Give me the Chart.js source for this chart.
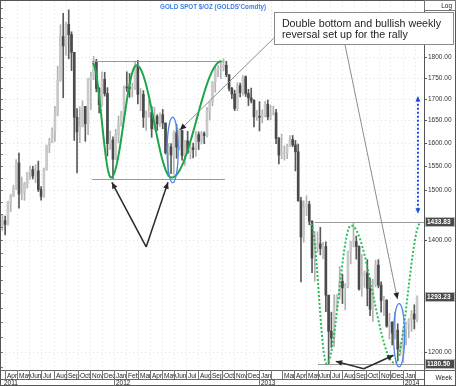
<!DOCTYPE html>
<html lang="en">
<head>
<meta charset="UTF-8">
<title>Gold spot weekly - double bottom</title>
<script src="https://cdn.jsdelivr.net/npm/chart.js"></script>
<style>
  html, body { margin: 0; padding: 0; background: #fff; }
  #wrap { width: 456px; height: 386px; }
</style>
</head>
<body>
<div id="wrap"><canvas id="goldChart" width="456" height="386"></canvas></div>
<script>
  // weekly candles, first bar is the week starting Mon 21 Mar 2011
  const firstWeek = [2011, 2, 21];
  const opens = [
    1427,1437,1430,1474,1486,1504,1556,1491,1493,1512,1536,1542,1528,1539,1500,1486,1542,1593,1602,1628,
    1663,1743,1852,1828,1883,1857,1812,1657,1624,1636,1682,1642,1746,1753,1788,1724,1686,1746,1712,1598,
    1606,1564,1617,1640,1665,1727,1725,1724,1725,1777,1710,1710,1657,1662,1668,1631,1659,1642,1663,1644,
    1578,1591,1573,1622,1590,1627,1572,1604,1579,1589,1585,1618,1603,1620,1616,1671,1692,1740,1769,1772,
    1774,1780,1757,1724,1711,1677,1731,1714,1752,1712,1702,1696,1658,1658,1657,1662,1687,1658,1667,1667,
    1609,1573,1576,1577,1592,1607,1595,1580,1477,1405,1463,1470,1436,1365,1386,1392,1383,1387,1297,1234,
    1223,1277,1296,1322,1310,1313,1377,1396,1396,1387,1308,1332,1337,1309,1272,1315,1352,1315,1287,1288,
    1243,1250,1231,1236,1204,1212,1238,1247,1254,1264,1255
  ];
  const highs = [
    1448,1446,1476,1490,1509,1563,1577,1526,1515,1536,1550,1549,1552,1560,1506,1545,1595,1610,1633,1682,
    1778,1882,1912,1889,1921,1864,1812,1677,1681,1695,1682,1748,1763,1802,1795,1726,1764,1763,1726,1626,
    1613,1630,1660,1671,1730,1764,1760,1737,1790,1792,1724,1719,1672,1696,1682,1680,1663,1667,1675,1644,
    1598,1598,1626,1641,1631,1628,1605,1625,1598,1599,1625,1624,1625,1624,1680,1693,1741,1778,1779,1787,
    1796,1790,1757,1727,1720,1738,1737,1755,1754,1722,1725,1698,1673,1693,1674,1694,1697,1685,1683,1675,
    1612,1619,1593,1597,1616,1616,1605,1597,1484,1477,1487,1476,1437,1416,1415,1424,1395,1396,1297,1267,
    1298,1298,1349,1335,1318,1378,1397,1434,1407,1388,1372,1341,1362,1327,1326,1361,1362,1321,1295,1289,
    1265,1250,1267,1247,1216,1238,1250,1256,1270,1280,1296
  ];
  const lows = [
    1418,1409,1428,1455,1486,1500,1462,1479,1478,1503,1521,1522,1514,1496,1478,1484,1540,1578,1600,1603,
    1660,1741,1702,1804,1796,1767,1605,1535,1600,1635,1603,1618,1675,1745,1716,1667,1683,1706,1571,1585,
    1523,1563,1600,1637,1654,1717,1703,1704,1722,1688,1672,1634,1627,1657,1612,1628,1627,1636,1631,1575,
    1527,1533,1532,1566,1584,1562,1551,1576,1565,1567,1570,1585,1597,1598,1613,1651,1683,1715,1752,1748,
    1766,1752,1718,1700,1672,1672,1704,1708,1705,1684,1690,1635,1650,1626,1644,1658,1651,1651,1662,1598,
    1554,1565,1562,1565,1591,1591,1539,1476,1321,1395,1447,1429,1338,1322,1376,1371,1364,1268,1180,1207,
    1209,1270,1290,1282,1271,1310,1354,1386,1363,1306,1295,1311,1278,1261,1251,1312,1310,1267,1261,1241,
    1221,1211,1221,1185,1194,1182,1211,1223,1234,1238,1250
  ];
  const closes = [
    1437,1430,1474,1486,1504,1556,1491,1493,1512,1536,1542,1528,1539,1500,1486,1542,1593,1602,1628,1663,
    1743,1852,1828,1883,1857,1812,1657,1624,1636,1682,1642,1746,1753,1788,1724,1686,1746,1712,1598,1606,
    1564,1617,1640,1665,1727,1725,1724,1725,1777,1710,1710,1657,1662,1668,1631,1659,1642,1663,1644,1578,
    1591,1573,1622,1590,1627,1572,1604,1579,1589,1585,1618,1603,1620,1616,1671,1692,1740,1769,1772,1774,
    1780,1757,1724,1711,1677,1731,1714,1752,1712,1702,1696,1658,1658,1657,1662,1687,1658,1667,1667,1609,
    1573,1576,1577,1592,1607,1595,1580,1477,1405,1463,1470,1436,1365,1386,1392,1383,1387,1297,1234,1223,
    1277,1296,1322,1310,1313,1377,1396,1396,1387,1308,1332,1337,1309,1272,1315,1352,1315,1287,1288,1243,
    1250,1231,1236,1204,1212,1238,1247,1254,1264,1255,1293
  ];
  const slotCount = 153;
  const priceTicks = [1200, 1400, 1500, 1550, 1600, 1650, 1700, 1750, 1800, 1850];
  const markedLevels = [1433.83, 1293.23, 1180.50];
  const monthNames = ['Jan','Feb','Mar','Apr','May','Jun','Jul','Aug','Sep','Oct','Nov','Dec'];
  const firstMonth = [2011, 3];
  const lastMonth = [2014, 1];

  // hand drawn annotations, anchors as [week index, price]
  const rangeTop2012 = [[32.4, 1790], [79.7, 1790]];
  const rangeBottom2012 = [[32.4, 1523], [80.5, 1523]];
  const wave2012 = [[32.6, 1785], [39.3, 1525], [48.5, 1780], [61.2, 1525], [79.3, 1790]];
  const wave2013 = [[111.6, 1431], [117.3, 1180], [126.1, 1428], [142.0, 1181], [151.4, 1434]];
  const rangeTop2013 = [[113.0, 1433.83], [152.5, 1433.83]];
  const rangeBottom2013 = [[114.1, 1180.5], [152.5, 1180.5]];
  const ovals = [[61.6, 2.0, 1657, 1514], [143.5, 2.0, 1282, 1175]];
  const arrows2012 = [[52.0, 1386], [39.6, 1515], [59.9, 1515]];
  const arrows2013 = [[130.7, 1172], [120.6, 1184], [141.5, 1194]];
  const targetArrow = [[150.3, 1451], [150.3, 1706]];
  const noteBox = [[98.2, 1915], [163.0, 1832]];
  const noteLines = ['Double bottom and bullish weekly', 'reversal set up for the rally'];
  const callouts = [[[98.2, 1848], [64.2, 1628]], [[123.9, 1832], [142.9, 1290]]];
  const titleText = "GOLD SPOT $/OZ (GOLDS'Comdty)";

  const FONT = '"Liberation Sans", Arial, sans-serif';

  function weekPos(y, m, d) {
    const t0 = Date.UTC(firstWeek[0], firstWeek[1], firstWeek[2]);
    return (Date.UTC(y, m, d) - t0) / (7 * 86400000) - 0.5;
  }

  function monthStarts() {
    const out = [];
    let [yy, mm] = firstMonth;
    while (yy < lastMonth[0] || (yy === lastMonth[0] && mm <= lastMonth[1])) {
      out.push({ year: yy, month: mm, pos: weekPos(yy, mm, 1) });
      mm++;
      if (mm > 11) { mm = 0; yy++; }
    }
    return out;
  }

  const isUp = opens.map((o, i) => closes[i] >= o);
  const wickData = lows.map((l, i) => ({ x: i, y: [l, highs[i]] }));
  const bodyData = opens.map((o, i) => ({ x: i, y: [Math.min(o, closes[i]), Math.max(o, closes[i])] }));

  function seg(ctx, x0, y0, x1, y1) {
    ctx.beginPath(); ctx.moveTo(x0, y0); ctx.lineTo(x1, y1); ctx.stroke();
  }

  function arrowHead(ctx, x0, y0, x1, y1, size) {
    const ang = Math.atan2(y1 - y0, x1 - x0);
    ctx.beginPath();
    ctx.moveTo(x1, y1);
    ctx.lineTo(x1 - size * Math.cos(ang - 0.42), y1 - size * Math.sin(ang - 0.42));
    ctx.lineTo(x1 - size * Math.cos(ang + 0.42), y1 - size * Math.sin(ang + 0.42));
    ctx.closePath();
    ctx.fill();
  }

  const overlay = {
    id: 'overlay',
    beforeDatasetsDraw(chart) {
      const { ctx, chartArea: a, scales: { x, y } } = chart;
      ctx.save();
      ctx.strokeStyle = '#e0e0e0';
      ctx.lineWidth = 1;
      ctx.setLineDash([1, 3]);
      priceTicks.forEach(p => {
        const yy = Math.round(y.getPixelForValue(p)) + 0.5;
        seg(ctx, a.left, yy, a.right, yy);
      });
      monthStarts().forEach(m => {
        const xx = Math.round(x.getPixelForValue(m.pos)) + 0.5;
        seg(ctx, xx, a.top, xx, a.bottom);
      });
      ctx.restore();
    },
    afterDatasetsDraw(chart) {
      const { ctx, scales: { x, y } } = chart;
      const P = ([i, p]) => [x.getPixelForValue(i), y.getPixelForValue(p)];
      ctx.save();

      // range lines
      ctx.strokeStyle = '#9a9a9a';
      ctx.lineWidth = 1;
      [rangeTop2012, rangeBottom2012, rangeTop2013, rangeBottom2013].forEach(l => {
        const [x0, y0] = P(l[0]), [x1, y1] = P(l[1]);
        seg(ctx, x0, Math.round(y0) + 0.5, x1, Math.round(y1) + 0.5);
      });

      // wave curves
      function wave(pts) {
        ctx.beginPath();
        for (let k = 0; k < pts.length - 1; k++) {
          const [x0, y0] = P(pts[k]), [x1, y1] = P(pts[k + 1]);
          for (let s = 0; s <= 30; s++) {
            const t = s / 30;
            const xx = x0 + (x1 - x0) * t;
            const yy = y0 + (y1 - y0) * (1 - Math.cos(Math.PI * t)) / 2;
            if (k === 0 && s === 0) ctx.moveTo(xx, yy); else ctx.lineTo(xx, yy);
          }
        }
        ctx.stroke();
      }
      ctx.strokeStyle = '#1ea54b';
      ctx.lineWidth = 2;
      wave(wave2012);
      ctx.strokeStyle = '#2ebd55';
      ctx.setLineDash([2, 2]);
      wave(wave2013);
      ctx.setLineDash([]);

      // ovals
      ctx.strokeStyle = '#4a86e8';
      ctx.lineWidth = 1.3;
      ovals.forEach(([c, hw, pTop, pBot]) => {
        const cx = x.getPixelForValue(c);
        const rx = x.getPixelForValue(c + hw) - cx;
        const yT = y.getPixelForValue(pTop), yB = y.getPixelForValue(pBot);
        ctx.beginPath();
        ctx.ellipse(cx, (yT + yB) / 2, rx, (yB - yT) / 2, 0, 0, Math.PI * 2);
        ctx.stroke();
      });

      // black pointer arrows
      ctx.strokeStyle = '#2a2a2a';
      ctx.fillStyle = '#2a2a2a';
      ctx.lineWidth = 1.5;
      [arrows2012, arrows2013].forEach(set => {
        const [vx, vy] = P(set[0]);
        set.slice(1).forEach(tip => {
          const [tx, ty] = P(tip);
          seg(ctx, vx, vy, tx, ty);
          arrowHead(ctx, vx, vy, tx, ty, 7);
        });
      });

      // blue target arrow
      const [bx0, by0] = P(targetArrow[0]), [bx1, by1] = P(targetArrow[1]);
      ctx.strokeStyle = '#1d4fd6';
      ctx.fillStyle = '#1d4fd6';
      ctx.lineWidth = 2;
      ctx.setLineDash([2, 2]);
      seg(ctx, bx0, by0 - 4, bx1, by1 + 4);
      ctx.setLineDash([]);
      arrowHead(ctx, bx0, by1, bx0, by0, 6);
      arrowHead(ctx, bx1, by0, bx1, by1, 6);

      ctx.restore();
    },
    afterDraw(chart) {
      const { ctx, chartArea: a, scales: { x, y }, width: W, height: H } = chart;
      const P = ([i, p]) => [x.getPixelForValue(i), y.getPixelForValue(p)];
      ctx.save();

      // frame and axis separators
      ctx.strokeStyle = '#555';
      ctx.lineWidth = 1;
      ctx.strokeRect(0.5, 0.5, W - 1, H - 1);
      seg(ctx, a.right + 0.5, 0, a.right + 0.5, H);
      // left edge ticks
      ctx.strokeStyle = '#777';
      for (let p = 1175; p < 1940; p += 25) {
        const yy = Math.round(y.getPixelForValue(p)) + 0.5;
        seg(ctx, 1, yy, 3, yy);
      }

      // bottom date strip
      const b = Math.round(a.bottom);
      ctx.strokeStyle = '#666';
      seg(ctx, 0, b + 0.5, W, b + 0.5);
      seg(ctx, 0, b + 9.5, a.right, b + 9.5);
      ctx.fillStyle = '#222';
      ctx.font = '6.5px ' + FONT;
      ctx.textBaseline = 'alphabetic';
      ctx.textAlign = 'left';
      const ms = monthStarts();
      ms.forEach((m, k) => {
        const xx = Math.round(x.getPixelForValue(m.pos)) + 0.5;
        ctx.strokeStyle = '#777';
        seg(ctx, xx, b, xx, b + 9);
        if (m.month === 0) seg(ctx, xx, b + 9, xx, H);
        const next = k + 1 < ms.length ? x.getPixelForValue(ms[k + 1].pos) : a.right;
        if (next - xx >= 10.5) ctx.fillText(monthNames[m.month], xx + 1.5, b + 7.5);
        if (m.month === 0) ctx.fillText(String(m.year), xx + 1.5, b + 15);
      });
      ctx.fillText(String(firstWeek[0]), a.left + 3, b + 15);

      // right price axis
      ctx.font = '6.5px ' + FONT;
      ctx.textBaseline = 'middle';
      priceTicks.forEach(p => {
        const yy = Math.round(y.getPixelForValue(p)) + 0.5;
        ctx.strokeStyle = '#555';
        seg(ctx, a.right, yy, a.right + 3, yy);
        ctx.fillStyle = '#333';
        ctx.fillText(p.toFixed(2), a.right + 4, yy);
      });
      markedLevels.forEach(p => {
        const yy = Math.round(y.getPixelForValue(p));
        ctx.fillStyle = '#4b4b4b';
        ctx.fillRect(a.right + 1, yy - 5, 30, 10);
        ctx.strokeStyle = '#bbb';
        ctx.strokeRect(a.right + 1.5, yy - 4.5, 29, 9);
        ctx.fillStyle = '#fff';
        ctx.font = 'bold 6.5px ' + FONT;
        ctx.fillText(p.toFixed(2), a.right + 3, yy + 0.5);
      });

      // Log box and Week label
      ctx.strokeStyle = '#777';
      ctx.strokeRect(a.right + 0.5, 0.5, W - a.right - 1, 10);
      ctx.fillStyle = '#222';
      ctx.font = '6.5px ' + FONT;
      ctx.textAlign = 'right';
      ctx.fillText('Log', W - 4, 6);
      ctx.fillText('Week', W - 4, b + 8);

      // title
      ctx.textAlign = 'left';
      ctx.textBaseline = 'alphabetic';
      ctx.fillStyle = '#3b7de0';
      ctx.font = 'bold 6.3px ' + FONT;
      ctx.fillText(titleText, 160, 9);

      // callout lines
      ctx.strokeStyle = '#8c8c8c';
      ctx.fillStyle = '#222';
      ctx.lineWidth = 1;
      callouts.forEach(([from, to]) => {
        const [x0, y0] = P(from), [x1, y1] = P(to);
        seg(ctx, x0, y0, x1, y1);
        arrowHead(ctx, x0, y0, x1, y1, 7);
      });

      // note box
      const [nx0, ny0] = P(noteBox[0]), [nx1, ny1] = P(noteBox[1]);
      ctx.fillStyle = '#fff';
      ctx.fillRect(nx0, ny0, nx1 - nx0, ny1 - ny0);
      ctx.strokeStyle = '#8a8a8a';
      ctx.strokeRect(Math.round(nx0) + 0.5, Math.round(ny0) + 0.5, Math.round(nx1 - nx0), Math.round(ny1 - ny0));
      ctx.fillStyle = '#1e1e1e';
      ctx.font = '10.7px ' + FONT;
      noteLines.forEach((t, k) => ctx.fillText(t, nx0 + 8, ny0 + 14.5 + k * 11));

      ctx.restore();
    }
  };

  const ctx = document.getElementById('goldChart').getContext('2d');
  new Chart(ctx, {
    type: 'bar',
    data: {
      datasets: [
        {
          label: 'body',
          data: bodyData,
          backgroundColor: isUp.map(u => u ? '#c9c9c9' : '#4a4a4a'),
          barThickness: 2,
          minBarLength: 1,
          grouped: false
        },
        {
          label: 'range',
          data: wickData,
          backgroundColor: isUp.map(u => u ? '#b3b3b3' : '#5a5a5a'),
          barThickness: 1,
          grouped: false
        }
      ]
    },
    options: {
      responsive: false,
      animation: false,
      layout: { padding: { left: 1, top: 2, right: 0, bottom: 0 } },
      plugins: { legend: { display: false }, tooltip: { enabled: false } },
      scales: {
        x: {
          type: 'linear',
          min: -0.5,
          max: slotCount - 0.5,
          offset: false,
          ticks: { display: false },
          grid: { display: false },
          border: { display: false },
          afterFit: s => { s.height = 16; }
        },
        y: {
          type: 'logarithmic',
          position: 'right',
          min: 1170,
          max: 1942,
          ticks: { display: false },
          grid: { display: false },
          border: { display: false },
          afterFit: s => { s.width = 32; }
        }
      }
    },
    plugins: [overlay]
  });
</script>
</body>
</html>
